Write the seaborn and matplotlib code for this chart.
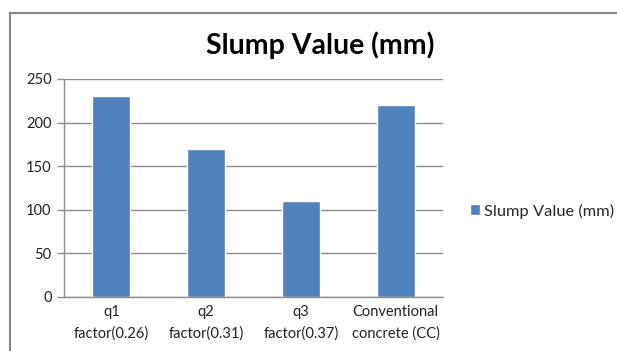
import numpy as np
import pandas as pd
import matplotlib
matplotlib.use('Agg')
import matplotlib.pyplot as plt
import seaborn as sns
from matplotlib.patches import Patch, Rectangle

categories = ['q1\nfactor(0.26)', 'q2\nfactor(0.31)', 'q3\nfactor(0.37)', 'Conventional\nconcrete (CC)']
slump = [230, 170, 110, 220]
yticks = [0, 50, 100, 150, 200, 250]

df = pd.DataFrame({'Mix': categories, 'Slump': slump})

sns.set_style('white')
plt.rcParams['font.family'] = ['Lato', 'DejaVu Sans']

fig = plt.figure(figsize=(6.17, 3.51), dpi=100)
ax = fig.add_axes([64/617, 1 - 297/351, (443 - 64)/617, (297 - 79)/351])

bar_col = '#4F81BD'
grid_col = '#8C8C8C'

sns.barplot(data=df, x='Mix', y='Slump', color=bar_col, width=0.4, ax=ax, saturation=1)

ax.set_ylim(0, 250)
ax.set_xlim(-0.5, 3.5)
ax.set_yticks(yticks)
ax.set_yticklabels([str(t) for t in yticks], fontsize=10.5, color='#222222')
ax.set_xlabel('')
ax.set_ylabel('')
ax.set_axisbelow(True)
ax.yaxis.grid(True, color=grid_col, linewidth=1)

# category separators as ticks
ax.set_xticks([0, 1, 2, 3])
ax.set_xticklabels(categories, fontsize=10.5, color='#222222', linespacing=1.65)
ax.set_xticks(np.arange(-0.5, 4, 1), minor=True)
ax.tick_params(axis='x', which='major', length=0, pad=6)
ax.tick_params(axis='x', which='minor', length=5, color=grid_col, width=1)
ax.tick_params(axis='y', length=5, color=grid_col, width=1, left=True, pad=4)

for s in ['top', 'right']:
    ax.spines[s].set_visible(False)
for s in ['left', 'bottom']:
    ax.spines[s].set_color(grid_col)
    ax.spines[s].set_linewidth(1)

fig.text(320/617, 1 - 45/351, 'Slump Value (mm)', ha='center', va='center',
         fontsize=20.5, fontweight='bold', color='#000000')

leg = fig.legend(handles=[Patch(facecolor=bar_col, label='Slump Value (mm)')],
                 loc='center left', bbox_to_anchor=(463/617, 1 - 211/351),
                 frameon=False, fontsize=11.8, handlelength=0.65, handleheight=0.65,
                 handletextpad=0.25, borderaxespad=0)

# outer chart border
fig.patches.append(Rectangle((10.5/617, -0.1), 1.2, 1 - 12.5/351 + 0.1,
                             transform=fig.transFigure, fill=False,
                             edgecolor='#888888', linewidth=1.5))

plt.savefig('out.png', dpi=100)
